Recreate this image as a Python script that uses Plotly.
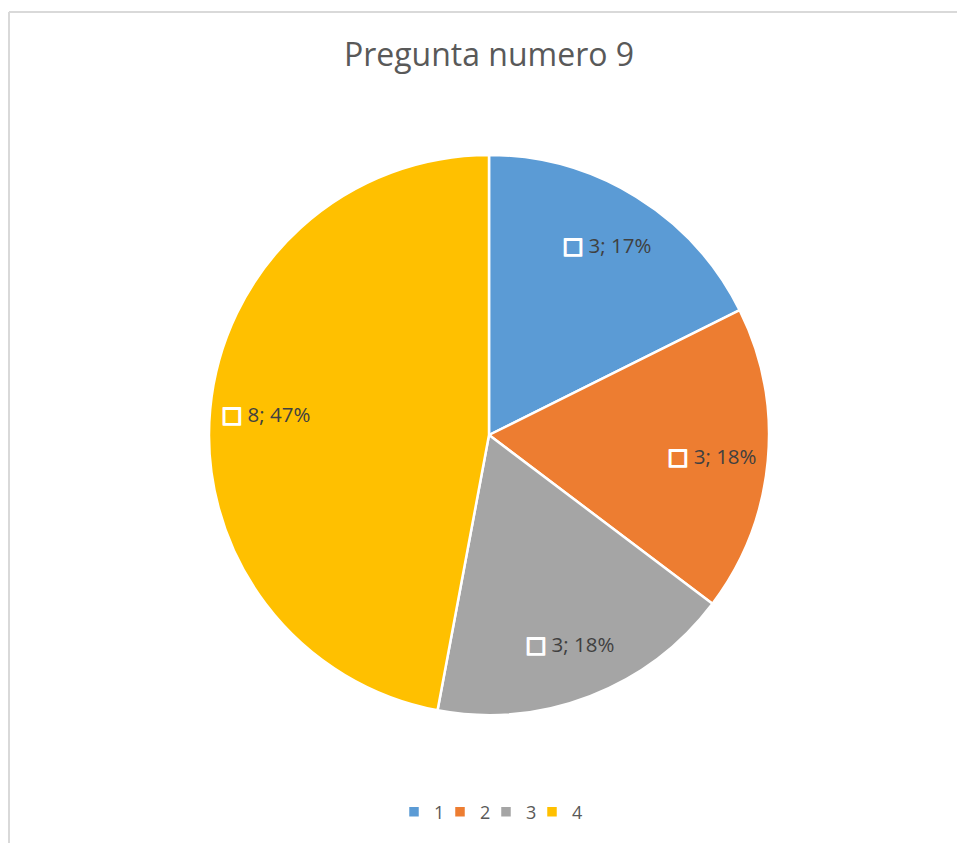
import plotly.graph_objects as go

categories = ["1", "2", "3", "4"]
values = [3, 3, 3, 8]
pct_labels = ["17%", "18%", "18%", "47%"]
colors = ["#5B9BD5", "#ED7D31", "#A5A5A5", "#FFC000"]
title_text = "Pregunta numero 9"

W, H = 957, 843
cx, cy, R = 489, 435, 280

square = "<span style='fill:white;stroke:white;stroke-width:1.6px;font-size:22px;font-family:DejaVu Sans'>□</span>"
texts = [f"{square} {v}; {p}" for v, p in zip(values, pct_labels)]
dom = dict(x=[(cx - R) / W, (cx + R) / W], y=[1 - (cy + R) / H, 1 - (cy - R) / H])

fig = go.Figure()
fig.add_trace(go.Pie(
    labels=categories,
    values=values,
    textinfo="none",
    marker=dict(colors=colors, line=dict(color="white", width=2.5)),
    sort=False,
    direction="clockwise",
    rotation=0,
    hoverinfo="label+value+percent",
    domain=dom,
))
# transparent ring overlay that carries the data labels at ~0.8 R
fig.add_trace(go.Pie(
    labels=categories,
    values=values,
    text=texts,
    texttemplate="%{text}",
    textposition="inside",
    insidetextorientation="horizontal",
    textfont=dict(family="Open Sans", size=20.5, color="#404040"),
    marker=dict(colors=["rgba(0,0,0,0)"] * 4, line=dict(width=0)),
    hole=0.6,
    sort=False,
    direction="clockwise",
    rotation=0,
    hoverinfo="skip",
    showlegend=False,
    domain=dom,
))

fig.update_layout(
    width=W, height=H,
    margin=dict(l=0, r=0, t=0, b=0),
    paper_bgcolor="white",
    uniformtext=dict(minsize=10, mode="show"),
    title=dict(text=title_text, x=489 / W, xanchor="center", y=1 - 55 / H, yanchor="middle",
               font=dict(family="Open Sans", size=32, color="#595959")),
    showlegend=True,
    legend=dict(orientation="h", x=486 / W, xanchor="center", y=1 - 812 / H, yanchor="middle",
                font=dict(family="Open Sans", size=18, color="#595959"),
                entrywidth=1, entrywidthmode="pixels"),
    shapes=[
        dict(type="line", xref="paper", yref="paper", x0=9 / W, x1=1.05, y0=1 - 12 / H, y1=1 - 12 / H,
             line=dict(color="#D9D9D9", width=2), layer="below"),
        dict(type="line", xref="paper", yref="paper", x0=9 / W, x1=9 / W, y0=-0.05, y1=1 - 12 / H,
             line=dict(color="#D9D9D9", width=2), layer="below"),
    ],
)

post = """
document.body.style.margin = '0';
document.body.style.overflow = 'hidden';
document.querySelectorAll('.legend .scrollbox, .legend').forEach(function(e){ e.removeAttribute('clip-path'); });
"""

fig.write_html("out.html", post_script=post, config={"displayModeBar": False})
